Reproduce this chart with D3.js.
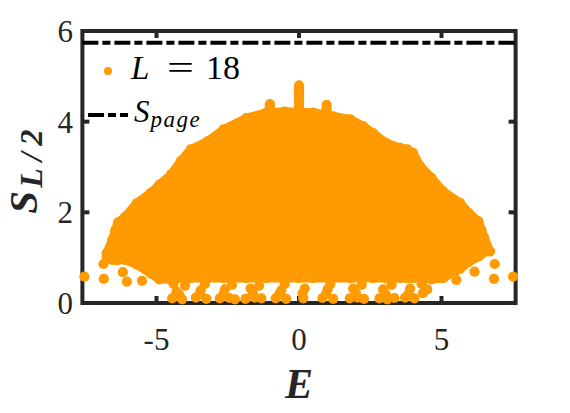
<!DOCTYPE html>
<html>
<head>
<meta charset="UTF-8">
<script src="https://d3js.org/d3.v7.min.js"></script>
<style>
  body { margin: 0; background: #fff; }
</style>
</head>
<body>
<script>
// ---- data ----
// envelope of the dense eigenstate cloud (energy, upper and lower S)
var envE   = [-6.75, -6.55, -6.45, -6.35, -6.1, -5.7, -5.2, -4.9, -4.5, -4.15, -3.8, -3.2, -2.65, -1.85, -1.15, -0.5, 0, 0.5,
              1.2, 1.8, 2.25, 2.6, 3.05, 3.55, 3.8, 4.0, 4.25, 4.65, 5.05, 5.65, 5.95, 6.3, 6.4, 6.5, 6.7];
var envTop = [1.10, 1.40, 1.60, 1.78, 1.90, 2.20, 2.43, 2.61, 2.83, 3.13, 3.39, 3.57, 3.83, 4.08, 4.20, 4.22, 4.21, 4.20,
              4.12, 4.05, 3.90, 3.75, 3.53, 3.42, 3.39, 3.31, 3.02, 2.76, 2.47, 2.21, 1.99, 1.80, 1.62, 1.44, 1.14];
var envBot = [1.00, 0.95, 0.95, 0.95, 0.95, 0.85, 0.65, 0.52, 0.52, 0.55, 0.55, 0.55, 0.55, 0.55, 0.55, 0.55, 0.55, 0.55,
              0.55, 0.55, 0.55, 0.55, 0.55, 0.55, 0.55, 0.55, 0.55, 0.52, 0.55, 0.75, 0.90, 1.02, 1.08, 1.12, 1.14];
// isolated states near the spectrum edges
var looseE = [-7.53, -6.86, -6.85, -6.18, -6.04, -5.51, 7.51, 6.87, 6.84, 6.16, 5.52, 5.11];
var looseS = [0.58, 0.86, 0.53, 0.68, 0.47, 0.49, 0.58, 0.86, 0.53, 0.69, 0.51, 0.58];
// low-entanglement states along the floor, in small clusters
var floorE = [-4.45, -4.10, -4.30, -4.00, -4.40, -4.20,
              -3.62, -3.25, -3.45, -3.30, -3.50,
              -2.78, -2.45, -2.25, -2.60, -2.35, -2.65,
              -1.88, -1.55, -1.32, -1.70, -1.40, -1.62,
              -0.82, -0.45, -0.62, -0.50, -0.70,
              0.15, 0.20, 0.12,
              0.82, 1.20, 1.00, 1.10, 0.95,
              1.78, 2.05, 2.28, 1.90, 2.20, 2.00,
              2.82, 3.10, 3.35, 2.95, 3.25, 3.05,
              3.72, 4.05, 3.90, 3.85,
              4.35, 4.50, 4.30];
var floorS = [0.10, 0.08, 0.25, 0.38, 0.42, 0.18,
              0.12, 0.09, 0.28, 0.42, 0.19,
              0.10, 0.11, 0.08, 0.30, 0.40, 0.20,
              0.09, 0.12, 0.10, 0.32, 0.38, 0.21,
              0.10, 0.09, 0.28, 0.42, 0.19,
              0.10, 0.32, 0.21,
              0.11, 0.09, 0.30, 0.42, 0.20,
              0.10, 0.12, 0.09, 0.32, 0.40, 0.21,
              0.10, 0.08, 0.11, 0.30, 0.40, 0.19,
              0.12, 0.10, 0.32, 0.21,
              0.22, 0.30, 0.42];
// narrow columns poking above the dome
var spikeE    = [-1.02, 0, 0.97];
var spikeTop  = [4.39, 4.80, 4.37];
var spikeBase = [4.20, 4.21, 4.18];
var sPage = 5.74;
var xTicks = [-5, 0, 5];
var yTicks = [0, 2, 4, 6];

// ---- setup ----
var W = 570, H = 413;
var x = d3.scaleLinear().domain([-7.6, 7.6]).range([82.4, 515.6]);
var y = d3.scaleLinear().domain([0, 6]).range([303, 31]);
var orange = "#ff9a00", axisCol = "#262626", r = 5.1, tickLen = 7;
var serif = "'Liberation Serif', 'Times New Roman', serif";

var svg = d3.select("body").append("svg")
    .attr("width", W)
    .attr("height", H)
    .attr("font-family", serif);

var x0 = x.range()[0], x1 = x.range()[1], yb = y.range()[0], yt = y.range()[1];

// box
svg.append("rect")
    .attr("x", x0).attr("y", yt)
    .attr("width", x1 - x0).attr("height", yb - yt)
    .attr("fill", "none")
    .attr("stroke", axisCol)
    .attr("stroke-width", 4);

// inward ticks on all sides
var tk = svg.append("g").attr("stroke", axisCol).attr("stroke-width", 4);
xTicks.forEach(function (t) {
    tk.append("line").attr("x1", x(t)).attr("x2", x(t)).attr("y1", yb).attr("y2", yb - tickLen);
    tk.append("line").attr("x1", x(t)).attr("x2", x(t)).attr("y1", yt).attr("y2", yt + tickLen);
});
yTicks.forEach(function (t) {
    tk.append("line").attr("y1", y(t)).attr("y2", y(t)).attr("x1", x0).attr("x2", x0 + tickLen);
    tk.append("line").attr("y1", y(t)).attr("y2", y(t)).attr("x1", x1).attr("x2", x1 - tickLen);
});

// tick labels
svg.selectAll(".xl").data(xTicks).enter().append("text")
    .attr("x", function (d) { return x(d); })
    .attr("y", 350)
    .attr("text-anchor", "middle")
    .attr("font-family", serif)
    .style("font-size", "31px")
    .attr("fill", axisCol)
    .text(function (d) { return d < 0 ? "-" + Math.abs(d) : d; });
svg.selectAll(".yl").data(yTicks).enter().append("text")
    .attr("x", 73)
    .attr("y", function (d) { return y(d); })
    .attr("dy", "0.35em")
    .attr("text-anchor", "end")
    .attr("font-family", serif)
    .style("font-size", "31px")
    .attr("fill", axisCol)
    .text(function (d) { return d; });

// ---- scatter cloud ----
var cloud = envE.map(function (e, i) { return {e: e, top: envTop[i], bot: envBot[i]}; });
var area = d3.area()
    .x(function (d) { return x(d.e); })
    .y0(function (d) { return y(d.bot); })
    .y1(function (d) { return y(d.top); });
svg.append("path")
    .datum(cloud)
    .attr("d", area)
    .attr("fill", orange)
    .attr("stroke", orange)
    .attr("stroke-width", 2 * r - 1.5)
    .attr("stroke-linejoin", "round");

var pts = [];
cloud.forEach(function (d) { pts.push([d.e, d.top]); pts.push([d.e, d.bot]); });
looseE.forEach(function (e, i) { pts.push([e, looseS[i]]); });
floorE.forEach(function (e, i) { pts.push([e, floorS[i]]); });
svg.append("g").selectAll("circle").data(pts).enter().append("circle")
    .attr("cx", function (d) { return x(d[0]); })
    .attr("cy", function (d) { return y(d[1]); })
    .attr("r", r)
    .attr("fill", orange);

svg.append("g").selectAll("line").data(spikeE).enter().append("line")
    .attr("x1", function (d) { return x(d); })
    .attr("x2", function (d) { return x(d); })
    .attr("y1", function (d, i) { return y(spikeBase[i]); })
    .attr("y2", function (d, i) { return y(spikeTop[i]); })
    .attr("stroke", orange)
    .attr("stroke-width", 2 * r)
    .attr("stroke-linecap", "round");

// Page value
svg.append("line")
    .attr("x1", x0).attr("x2", x1)
    .attr("y1", y(sPage)).attr("y2", y(sPage))
    .attr("stroke", "#000")
    .attr("stroke-width", 4)
    .attr("stroke-dasharray", "16,4,8,4");

// ---- legend ----
svg.append("circle").attr("cx", 108).attr("cy", 71).attr("r", 4).attr("fill", orange);
svg.append("text").attr("x", 131).attr("y", 78.5).attr("font-family", serif)
    .style("font-size", "33px").style("font-style", "italic").text("L");
svg.append("text").attr("transform", "translate(180.5,78.5) scale(1.45,1)").attr("text-anchor", "middle")
    .attr("font-family", serif).style("font-size", "33px").text("=");
svg.append("text").attr("x", 206).attr("y", 78.5).attr("font-family", serif)
    .style("font-size", "34px").text("18");

svg.append("line")
    .attr("x1", 88).attr("x2", 128)
    .attr("y1", 115).attr("y2", 115)
    .attr("stroke", "#000")
    .attr("stroke-width", 4)
    .attr("stroke-dasharray", "16,4,8,4");
var sp = svg.append("text").attr("x", 134).attr("y", 122).attr("font-family", serif).style("font-style", "italic");
sp.append("tspan").style("font-size", "31px").text("S");
sp.append("tspan").attr("dy", 5).attr("dx", 1).style("font-size", "23px").style("letter-spacing", "1.5px").text("page");

// ---- axis labels ----
svg.append("text")
    .attr("x", 299).attr("y", 398)
    .attr("text-anchor", "middle")
    .attr("font-family", serif)
    .style("font-size", "42px")
    .style("font-weight", "bold")
    .style("font-style", "italic")
    .attr("fill", axisCol)
    .text("E");

var yl = svg.append("text")
    .attr("transform", "translate(37,168) rotate(-90)")
    .attr("text-anchor", "middle")
    .attr("font-family", serif)
    .style("font-weight", "bold")
    .style("font-style", "italic")
    .attr("fill", axisCol);
yl.append("tspan").style("font-size", "41px").text("S");
yl.append("tspan").attr("dy", 5).attr("dx", 3).style("font-size", "32px").style("letter-spacing", "7px").text("L/2");
</script>
</body>
</html>
